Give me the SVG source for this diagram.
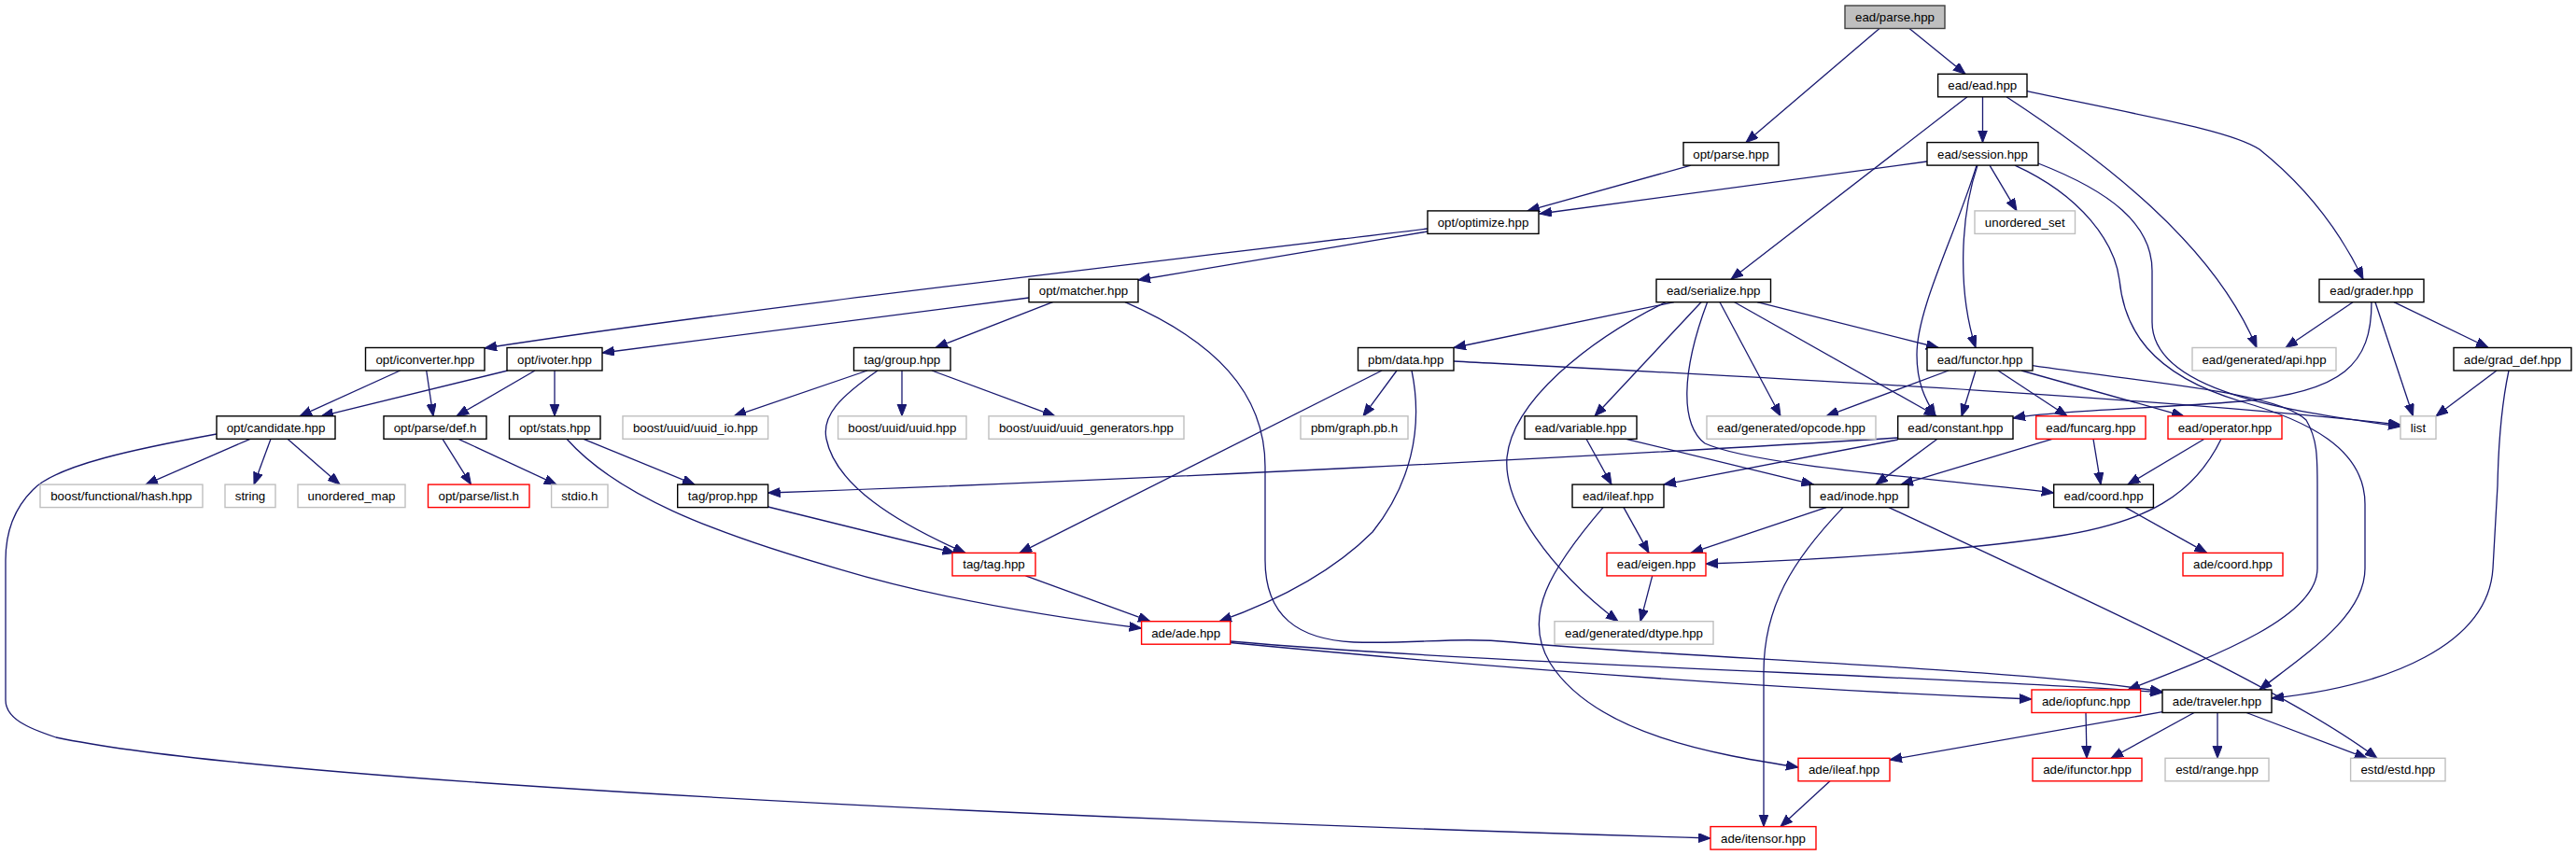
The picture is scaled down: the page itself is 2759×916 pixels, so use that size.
<svg xmlns="http://www.w3.org/2000/svg" width="2759" height="916" viewBox="0 0 2759 916">
<style>
.nd rect{fill:#fff;stroke:#000;stroke-width:1.4}
.gy rect{fill:#fff;stroke:#bfbfbf;stroke-width:1.4}
.rd rect{fill:#fff;stroke:#ff0000;stroke-width:1.4}
.rt rect{fill:#bfbfbf;stroke:#404040;stroke-width:1.4}
text{font-family:"Liberation Sans",Arial,Helvetica,sans-serif;font-size:13.3px;fill:#000;text-anchor:middle}
#edges path{fill:none;stroke:#191970;stroke-width:1.3;marker-end:url(#ah)}
</style>
<defs>
<marker id="ah" markerUnits="userSpaceOnUse" markerWidth="14" markerHeight="11" refX="13" refY="5" orient="auto">
<path d="M0,0 L13,5 L0,10 z" fill="#191970" stroke="#191970" stroke-width="1"/>
</marker>
</defs>
<rect width="2759" height="916" fill="#fff"/>
<g id="edges">
<path d="M2013,30.5 L1870,152.6"/>
<path d="M2045,30.5 L2105,79.3"/>
<path d="M1811,177.1 L1636,225.9"/>
<path d="M2123.5,103.8 L2123.5,152.6"/>
<path d="M2107,103.8 L1854,299.2"/>
<path d="M2149,103.8 C2250,170 2370,260 2417,372.5"/>
<path d="M2171,97.7 C2300,125 2390,140 2420,160 C2470,200 2505,245 2531,299.2"/>
<path d="M2064,173 L1649,229"/>
<path d="M2131,177.1 L2160,225.9"/>
<path d="M2118,177.1 C2100,230 2096,310 2116,372.5"/>
<path d="M2117,177.1 C2095,250 2053,330 2053,380 C2053,410 2062,428 2073,445.8"/>
<path d="M2183,175 C2260,205 2305,240 2305,290 L2305,345 C2305,420 2450,440 2571,457"/>
<path d="M2158,177.1 C2230,210 2265,260 2270,300 C2275,350 2300,400 2400,430 C2470,450 2533,480 2533,540 L2533,609 C2533,660 2470,700 2420,739"/>
<path d="M1793,323.7 L1557,372.5"/>
<path d="M1784,323.7 C1700,365 1620,430 1614,490 C1610,540 1660,610 1733,665.7"/>
<path d="M1822,323.7 L1708,445.8"/>
<path d="M1828.6,323.7 C1800,400 1800,455 1826,475 C1880,500 2100,515 2199.7,528"/>
<path d="M1842,323.7 L1907,445.8"/>
<path d="M1857.7,323.7 L2074,445.8"/>
<path d="M1882,323.7 L2076,372.5"/>
<path d="M1529,248 L1219,300"/>
<path d="M1529,245 C1200,285 800,330 519,373"/>
<path d="M1102,319 C900,345 760,362 645,378"/>
<path d="M1127.5,323.7 L1002,372.5"/>
<path d="M1205,323.7 C1300,365 1355,420 1355,500 L1355,600 C1355,660 1390,685 1450,688 C1520,690 1560,682 1620,688 C1800,705 2150,715 2316,741"/>
<path d="M1317.7,687 C1600,712 2100,725 2316,742"/>
<path d="M1317.7,688.5 C1700,725 2000,742 2176,749"/>
<path d="M2177,391.7 C2300,410 2440,420 2470,450 C2482,470 2482,490 2482,520 L2482,609 C2482,660 2380,700 2279,739"/>
<path d="M2087,397 L1956,445.8"/>
<path d="M2116,397 L2101,445.8"/>
<path d="M2140,397 L2214,445.8"/>
<path d="M2165,397 L2339,445.8"/>
<path d="M1557,387 C1900,405 2300,425 2571,455"/>
<path d="M1480,397 L1092,592.4"/>
<path d="M1496,397 L1460,445.8"/>
<path d="M1512,397 C1525,460 1510,520 1470,570 C1420,620 1350,650 1306,665.7"/>
<path d="M2520,323.7 L2448,372.5"/>
<path d="M2540,323.7 C2540,390 2510,420 2400,430 C2300,438 2200,440 2156,448"/>
<path d="M2544,323.7 L2584.5,445.8"/>
<path d="M2564,323.7 L2665,372.5"/>
<path d="M2674,397 L2609,445.8"/>
<path d="M2687,397 C2680,430 2676,470 2675,520 L2670,609 C2665,690 2560,735 2433,748"/>
<path d="M428.6,397 L321,445.8"/>
<path d="M456.7,397 L464,445.8"/>
<path d="M543.75,397 L344,445.8"/>
<path d="M573,397 L489,445.8"/>
<path d="M594,397 L594,445.8"/>
<path d="M929,397 L786,445.8"/>
<path d="M940,397 C900,425 880,445 885,470 C895,520 960,560 1034,592.4"/>
<path d="M966,397 L966,445.8"/>
<path d="M998,397 L1130,445.8"/>
<path d="M268,470.3 L156,519.1"/>
<path d="M290,470.3 L272,519.1"/>
<path d="M308,470.3 L364,519.1"/>
<path d="M232,465 C150,480 60,498 35,525 C10,550 6,580 6,600 L6,750 C6,770 30,780 60,790 C250,830 900,870 1832,898"/>
<path d="M474,470.3 L504.5,519.1"/>
<path d="M491,470.3 L596,519.1"/>
<path d="M625,470.3 L744,519.1"/>
<path d="M607,470.3 C660,530 760,570 900,610 C1000,640 1120,660 1222.6,673"/>
<path d="M1699,470.3 L1726,519.1"/>
<path d="M1741.6,470.3 L1942.5,519.1"/>
<path d="M2032.7,469 C1700,490 1200,515 822.6,528"/>
<path d="M2032.7,471 L1782,519.1"/>
<path d="M2075,470.3 L2009,519.1"/>
<path d="M2198,470.3 L2036,519.1"/>
<path d="M2242,470.3 L2250,519.1"/>
<path d="M2361,470.3 L2279,519.1"/>
<path d="M2379,470.3 C2350,530 2300,560 2200,575 C2100,590 1950,600 1827,604"/>
<path d="M1739,543.6 L1766,592.4"/>
<path d="M1717,543.6 C1660,610 1630,660 1660,710 C1710,790 1850,810 1926,822"/>
<path d="M1956,543.6 L1811,592.4"/>
<path d="M1974,543.6 C1920,600 1889,650 1889,720 L1889,885.6"/>
<path d="M2023,543.6 C2250,650 2450,740 2546,812.3"/>
<path d="M2276.5,543.6 L2363.6,592.4"/>
<path d="M822.6,543 L1022.6,592.4"/>
<path d="M1098.5,616.9 L1232,665.7"/>
<path d="M1769.7,616.9 L1757,665.7"/>
<path d="M2316,762.7 L2024,814"/>
<path d="M2350,763.5 L2261,812.3"/>
<path d="M2375,763.5 L2375,812.3"/>
<path d="M2406,763.5 L2535,812.3"/>
<path d="M2234,763.5 L2235,812.3"/>
<path d="M1960,836.8 L1907,885.6"/>
</g>
<g id="n1" class="rt"><rect x="1976" y="6" width="107" height="24.5"/><text x="2029.5" y="23">ead/parse.hpp</text></g>
<g id="n2" class="nd"><rect x="2075.6" y="79.3" width="95.4" height="24.5"/><text x="2123.3" y="96.3">ead/ead.hpp</text></g>
<g id="n3" class="nd"><rect x="1803" y="152.6" width="102" height="24.5"/><text x="1854" y="169.6">opt/parse.hpp</text></g>
<g id="n4" class="nd"><rect x="2064" y="152.6" width="119" height="24.5"/><text x="2123.5" y="169.6">ead/session.hpp</text></g>
<g id="n5" class="nd"><rect x="1529" y="225.9" width="119" height="24.5"/><text x="1588.5" y="242.9">opt/optimize.hpp</text></g>
<g id="n6" class="gy"><rect x="2115" y="225.9" width="107.5" height="24.5"/><text x="2168.75" y="242.9">unordered_set</text></g>
<g id="n7" class="nd"><rect x="1102" y="299.2" width="117" height="24.5"/><text x="1160.5" y="316.2">opt/matcher.hpp</text></g>
<g id="n8" class="nd"><rect x="1774" y="299.2" width="122.5" height="24.5"/><text x="1835.25" y="316.2">ead/serialize.hpp</text></g>
<g id="n9" class="nd"><rect x="2484" y="299.2" width="112" height="24.5"/><text x="2540" y="316.2">ead/grader.hpp</text></g>
<g id="n10" class="nd"><rect x="391.5" y="372.5" width="127.5" height="24.5"/><text x="455.25" y="389.5">opt/iconverter.hpp</text></g>
<g id="n11" class="nd"><rect x="543" y="372.5" width="102" height="24.5"/><text x="594" y="389.5">opt/ivoter.hpp</text></g>
<g id="n12" class="nd"><rect x="914.5" y="372.5" width="103.5" height="24.5"/><text x="966.25" y="389.5">tag/group.hpp</text></g>
<g id="n13" class="nd"><rect x="1454.5" y="372.5" width="102.5" height="24.5"/><text x="1505.75" y="389.5">pbm/data.hpp</text></g>
<g id="n14" class="nd"><rect x="2064" y="372.5" width="113" height="24.5"/><text x="2120.5" y="389.5">ead/functor.hpp</text></g>
<g id="n15" class="gy"><rect x="2348" y="372.5" width="154" height="24.5"/><text x="2425" y="389.5">ead/generated/api.hpp</text></g>
<g id="n16" class="nd"><rect x="2628" y="372.5" width="126" height="24.5"/><text x="2691" y="389.5">ade/grad_def.hpp</text></g>
<g id="n17" class="nd"><rect x="232" y="445.8" width="127" height="24.5"/><text x="295.5" y="462.8">opt/candidate.hpp</text></g>
<g id="n18" class="nd"><rect x="411" y="445.8" width="110" height="24.5"/><text x="466" y="462.8">opt/parse/def.h</text></g>
<g id="n19" class="nd"><rect x="545.5" y="445.8" width="97.5" height="24.5"/><text x="594.25" y="462.8">opt/stats.hpp</text></g>
<g id="n20" class="gy"><rect x="667" y="445.8" width="155.6" height="24.5"/><text x="744.8" y="462.8">boost/uuid/uuid_io.hpp</text></g>
<g id="n21" class="gy"><rect x="897.6" y="445.8" width="137.4" height="24.5"/><text x="966.3" y="462.8">boost/uuid/uuid.hpp</text></g>
<g id="n22" class="gy"><rect x="1059" y="445.8" width="209" height="24.5"/><text x="1163.5" y="462.8">boost/uuid/uuid_generators.hpp</text></g>
<g id="n23" class="gy"><rect x="1393" y="445.8" width="115" height="24.5"/><text x="1450.5" y="462.8">pbm/graph.pb.h</text></g>
<g id="n24" class="nd"><rect x="1633" y="445.8" width="120" height="24.5"/><text x="1693" y="462.8">ead/variable.hpp</text></g>
<g id="n25" class="gy"><rect x="1828" y="445.8" width="181" height="24.5"/><text x="1918.5" y="462.8">ead/generated/opcode.hpp</text></g>
<g id="n26" class="nd"><rect x="2032.7" y="445.8" width="123.3" height="24.5"/><text x="2094.35" y="462.8">ead/constant.hpp</text></g>
<g id="n27" class="rd"><rect x="2180.7" y="445.8" width="117.3" height="24.5"/><text x="2239.35" y="462.8">ead/funcarg.hpp</text></g>
<g id="n28" class="rd"><rect x="2322" y="445.8" width="122" height="24.5"/><text x="2383" y="462.8">ead/operator.hpp</text></g>
<g id="n29" class="gy"><rect x="2571" y="445.8" width="38" height="24.5"/><text x="2590" y="462.8">list</text></g>
<g id="n30" class="gy"><rect x="43" y="519.1" width="174" height="24.5"/><text x="130" y="536.1">boost/functional/hash.hpp</text></g>
<g id="n31" class="gy"><rect x="241" y="519.1" width="54" height="24.5"/><text x="268" y="536.1">string</text></g>
<g id="n32" class="gy"><rect x="319" y="519.1" width="115" height="24.5"/><text x="376.5" y="536.1">unordered_map</text></g>
<g id="n33" class="rd"><rect x="458.5" y="519.1" width="108.5" height="24.5"/><text x="512.75" y="536.1">opt/parse/list.h</text></g>
<g id="n34" class="gy"><rect x="590.6" y="519.1" width="60.4" height="24.5"/><text x="620.8" y="536.1">stdio.h</text></g>
<g id="n35" class="nd"><rect x="725.7" y="519.1" width="96.9" height="24.5"/><text x="774.15" y="536.1">tag/prop.hpp</text></g>
<g id="n36" class="nd"><rect x="1684" y="519.1" width="98" height="24.5"/><text x="1733" y="536.1">ead/ileaf.hpp</text></g>
<g id="n37" class="nd"><rect x="1938.5" y="519.1" width="105.5" height="24.5"/><text x="1991.25" y="536.1">ead/inode.hpp</text></g>
<g id="n38" class="nd"><rect x="2199.7" y="519.1" width="106.7" height="24.5"/><text x="2253.05" y="536.1">ead/coord.hpp</text></g>
<g id="n39" class="rd"><rect x="1020" y="592.4" width="89" height="24.5"/><text x="1064.5" y="609.4">tag/tag.hpp</text></g>
<g id="n40" class="rd"><rect x="1721" y="592.4" width="106" height="24.5"/><text x="1774" y="609.4">ead/eigen.hpp</text></g>
<g id="n41" class="rd"><rect x="2338" y="592.4" width="107" height="24.5"/><text x="2391.5" y="609.4">ade/coord.hpp</text></g>
<g id="n42" class="rd"><rect x="1222.6" y="665.7" width="95.1" height="24.5"/><text x="1270.15" y="682.7">ade/ade.hpp</text></g>
<g id="n43" class="gy"><rect x="1665" y="665.7" width="170" height="24.5"/><text x="1750" y="682.7">ead/generated/dtype.hpp</text></g>
<g id="n44" class="rd"><rect x="2176" y="739" width="116.6" height="24.5"/><text x="2234.3" y="756">ade/iopfunc.hpp</text></g>
<g id="n45" class="nd"><rect x="2316" y="739" width="117" height="24.5"/><text x="2374.5" y="756">ade/traveler.hpp</text></g>
<g id="n46" class="rd"><rect x="1926" y="812.3" width="98" height="24.5"/><text x="1975" y="829.3">ade/ileaf.hpp</text></g>
<g id="n47" class="rd"><rect x="2177" y="812.3" width="117" height="24.5"/><text x="2235.5" y="829.3">ade/ifunctor.hpp</text></g>
<g id="n48" class="gy"><rect x="2319" y="812.3" width="111" height="24.5"/><text x="2374.5" y="829.3">estd/range.hpp</text></g>
<g id="n49" class="gy"><rect x="2517.6" y="812.3" width="101.4" height="24.5"/><text x="2568.3" y="829.3">estd/estd.hpp</text></g>
<g id="n50" class="rd"><rect x="1832" y="885.6" width="113" height="24.5"/><text x="1888.5" y="902.6">ade/itensor.hpp</text></g>
</svg>
